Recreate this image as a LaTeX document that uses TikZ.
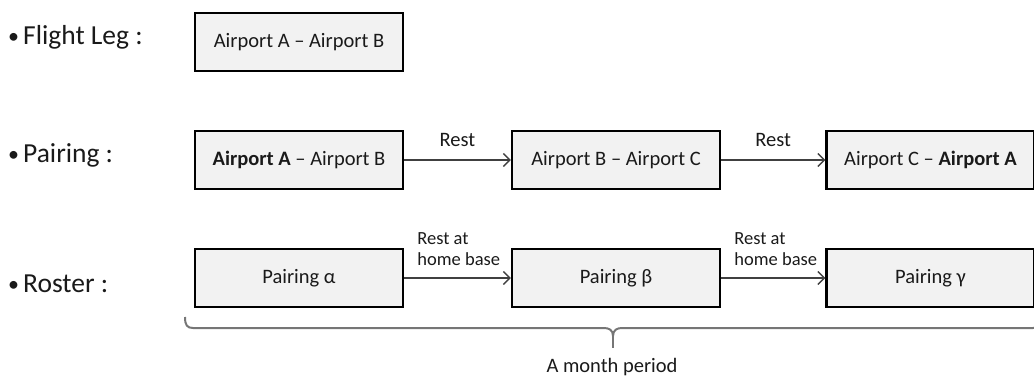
\documentclass[tikz,border=0pt]{standalone}
\usepackage{fontspec}
\setmainfont{Carlito}
\usetikzlibrary{arrows.meta}
\definecolor{boxfill}{HTML}{F2F2F2}
\definecolor{ink}{HTML}{1A1A1A}
\definecolor{arrowgray}{HTML}{404040}
\definecolor{bracegray}{HTML}{767676}
\tikzset{
  stepbox/.style={draw=black, line width=2.4pt, fill=boxfill, text=ink,
    minimum width=208pt, minimum height=58pt, inner sep=0pt,
    font=\fontsize{20.5}{24}\selectfont},
  rowlabel/.style={anchor=base west, inner sep=0pt, text=ink,
    font=\fontsize{27.5}{32}\selectfont},
  link/.style={draw=arrowgray, line width=1.4pt,
    -{Straight Barb[length=6.5pt, width=13pt, line width=1.4pt]}},
  restlbl/.style={text=ink, inner sep=0pt, font=\fontsize{20.5}{24}\selectfont},
  baselbl/.style={text=ink, inner sep=0pt, align=left,
    font=\fontsize{18.5}{21}\selectfont},
  brace/.style={draw=bracegray, line width=2pt}
}
\newcommand{\bul}{{\fontsize{22}{26}\selectfont\raisebox{1pt}{•}}\hspace{4pt}}
\begin{document}
\begin{tikzpicture}[x=1pt, y=-1pt]
  \useasboundingbox (0,0) rectangle (1034,378);
  \clip (0,0) rectangle (1034,378);

  % row labels
  \node[rowlabel] (lblleg)    at (8,44)  {\bul Flight Leg :};
  \node[rowlabel] (lblpair)   at (8,162) {\bul Pairing :};
  \node[rowlabel] (lblroster) at (8,292) {\bul Roster :};

  % flight leg
  \node[stepbox] (leg) at (299,42) {Airport A – Airport B};

  % pairing
  \node[stepbox] (p1) at (299,160)   {\textbf{Airport A} – Airport B};
  \node[stepbox] (p2) at (616,160)   {Airport B – Airport C};
  \node[stepbox] (p3) at (930.5,160) {Airport C – \textbf{Airport A}};
  \draw[link] (p1.east) -- node[restlbl, anchor=base, yshift=14pt] (rest1) {Rest} (p2.west);
  \draw[link] (p2.east) -- node[restlbl, anchor=base, yshift=14pt] (rest2) {Rest} (p3.west);

  % roster
  \node[stepbox] (r1) at (299,278)   {Pairing α};
  \node[stepbox] (r2) at (616,278)   {Pairing β};
  \node[stepbox] (r3) at (930.5,278) {Pairing γ};
  \draw[link] (r1.east) -- (r2.west);
  \draw[link] (r2.east) -- (r3.west);
  \node[baselbl, anchor=south west] (home1) at ([xshift=13pt, yshift=12pt]r1.east) {Rest at\\home base};
  \node[baselbl, anchor=south west] (home2) at ([xshift=13pt, yshift=12pt]r2.east) {Rest at\\home base};

  % brace spanning the roster
  \coordinate (bl) at (185,317);
  \coordinate (bm) at (613,336);
  \coordinate (btip) at (613,348);
  \coordinate (br) at (1041,317);
  \draw[brace] (bl) .. controls (185,325) and (187,328) .. (193,328)
    -- (604,328) .. controls (609,328) and (613,330) .. (bm)
    .. controls (613,330) and (617,328) .. (622,328)
    -- (1033,328) .. controls (1039,328) and (1041,325) .. (br);
  \draw[brace] (bm) -- (btip);
  \node[restlbl, anchor=base] (month) at (612,372) {A month period};
\end{tikzpicture}
\end{document}
